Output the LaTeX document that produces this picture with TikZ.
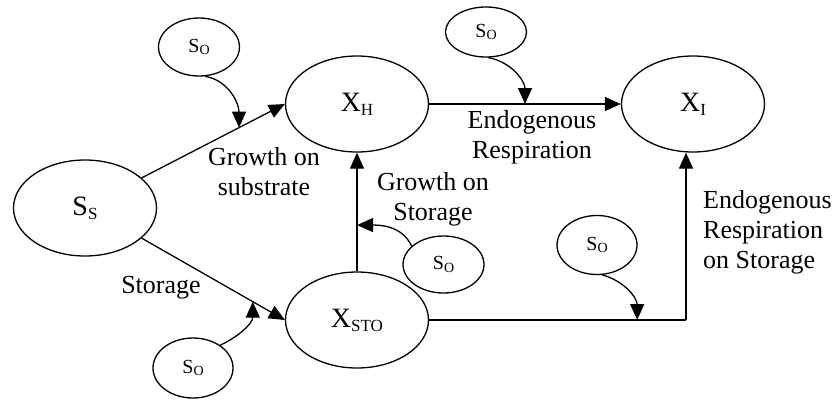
\documentclass[tikz,border=0pt]{standalone}
\usepackage{fontspec}
\setmainfont{Liberation Serif}
\usetikzlibrary{shapes.geometric,arrows.meta}
\newcommand{\bigsub}[2]{{\fontsize{28}{30}\selectfont #1}\raisebox{-4pt}{\fontsize{17}{20}\selectfont #2}}
\newcommand{\smsub}[2]{{\fontsize{20}{22}\selectfont #1}\raisebox{-2.5pt}{\fontsize{14}{16}\selectfont #2}}
\begin{document}
\begin{tikzpicture}[x=1pt,y=-1pt,
  big/.style={draw,ellipse,line width=1.3pt,minimum width=143pt,minimum height=96pt,inner sep=0pt},
  small/.style={draw,ellipse,line width=1.3pt,minimum width=81pt,minimum height=57pt,inner sep=0pt},
  flow/.style={line width=1.3pt,-{Triangle[length=16pt,width=14pt]}},
  lbl/.style={font=\fontsize{26}{30}\selectfont,inner sep=0pt,align=center}]
\useasboundingbox (0,0) rectangle (837,400);
\node[big] (SS) at (85,208) {\bigsub{S}{S}};
\node[big] (XH) at (357,104) {\bigsub{X}{H}};
\node[big] (XI) at (693,104) {\bigsub{X}{I}};
\node[big] (XSTO) at (357,320) {\bigsub{X}{STO}};
\node[small,minimum height=58pt] (SO1) at (199,47) {\smsub{S}{O}};
\node[small,minimum height=50pt] (SO2) at (486,32) {\smsub{S}{O}};
\node[small] (SO3) at (443.5,264.5) {\smsub{S}{O}};
\node[small,minimum height=59pt,minimum width=80pt] (SO4) at (597,245) {\smsub{S}{O}};
\node[small,minimum height=60pt,minimum width=80pt] (SO5) at (193,368) {\smsub{S}{O}};
\coordinate (k) at (686,320);
% main flows
\draw[flow] (SS.28) -- (XH.west) coordinate[pos=0.68] (c1);
\draw[flow] (SS.-28) -- (XSTO.west) coordinate[pos=0.776] (c5);
\draw[flow] (XH.east) -- (XI.west) coordinate[pos=0.5] (c2);
\draw[flow] (XSTO.north) -- (XH.south) coordinate[pos=0.39] (c3);
\draw[line width=1.3pt] (XSTO.east) -- (k) coordinate[pos=0.81] (c4);
\draw[flow] (k) -- (k |- XI.south);
% oxygen inputs
\draw[flow] (SO1.-78) to[out=-10,in=90] (c1);
\draw[flow] (SO2.-85) to[out=-10,in=90] (c2);
\draw[flow] (SO3.150) to[out=115,in=0] (c3);
\draw[flow] (SO4.-80) to[out=-15,in=90] (c4);
\draw[flow] (SO5.40) to[out=25,in=-90] (c5);
% labels
\node[lbl] (l1) at (264,172) {Growth on\\substrate};
\node[lbl] (l2) at (433,199) {Growth on\\Storage};
\node[lbl] (l3) at (532,137) {Endogenous\\Respiration};
\node[lbl,align=left,anchor=west] (l4) at (703,232) {Endogenous\\Respiration\\on Storage};
\node[lbl] (l5) at (161,288) {Storage};
\end{tikzpicture}
\end{document}
